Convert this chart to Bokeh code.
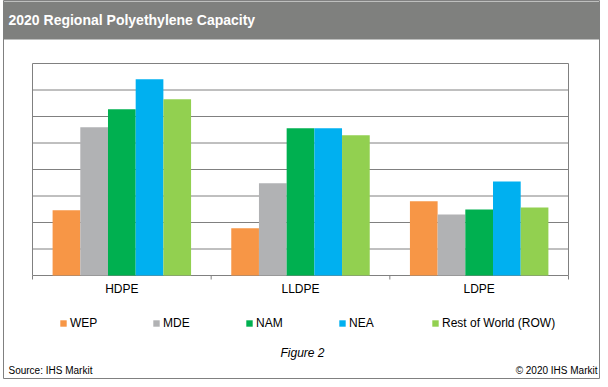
from bokeh.plotting import figure
from bokeh.models import (Range1d, Label, BoxAnnotation, Legend, LegendItem, ColumnDataSource)
from bokeh.transform import dodge
from bokeh.embed import file_html
from bokeh.resources import INLINE
from bokeh.core.properties import value

# ---- data (units = gridline steps, no axis labels shown) ----
categories = ["HDPE", "LLDPE", "LDPE"]
series_names = ["WEP", "MDE", "NAM", "NEA", "Rest of World (ROW)"]
wep = [2.46, 1.78, 2.80]
mde = [5.59, 3.48, 2.30]
nam = [6.27, 5.56, 2.49]
nea = [7.41, 5.56, 3.55]
row = [6.65, 5.29, 2.57]
y_ticks = [0, 1, 2, 3, 4, 5, 6, 7, 8]
title_text = "2020 Regional Polyethylene Capacity"
figure_text = "Figure 2"
source_text = "Source: IHS Markit"
copyright_text = "\u00a9 2020 IHS Markit"

colors = ["#F79646", "#B1B2B4", "#00B050", "#00B0F0", "#92D050"]
FONT = "Liberation Sans"
GRAY = "#808080"
HEADER = "#7F807E"

# ---- layout (canvas pixels) ----
W, H = 600, 379
FRAME_L, FRAME_R, FRAME_B = 3, 599, 378          # outer box = plot frame
PLOT_L, PLOT_R, PLOT_T, PLOT_B = 32, 568, 63, 275   # inner plotting area
n = len(categories)
y_max = y_ticks[-1]
ux = (PLOT_R - PLOT_L) / n
uy = (PLOT_B - PLOT_T) / y_max

def px_x(cx):
    return (cx - PLOT_L) / ux

def px_y(cy):
    return (PLOT_B - cy) / uy

centers = [i + 0.5 for i in range(n)]
bounds = [float(i) for i in range(n + 1)]

p = figure(width=W, height=H,
           x_range=Range1d(px_x(FRAME_L), px_x(FRAME_R)), y_range=Range1d(px_y(FRAME_B), px_y(0)),
           output_backend="svg", toolbar_location=None,
           x_axis_location=None, y_axis_location=None,
           min_border_left=FRAME_L, min_border_top=0,
           min_border_right=W - FRAME_R, min_border_bottom=H - FRAME_B)
p.xgrid.visible = False
p.ygrid.visible = False
p.outline_line_color = GRAY
p.outline_line_width = 1
p.background_fill_color = "white"
p.border_fill_color = "white"

# header bar
p.add_layout(BoxAnnotation(left=px_x(0), right=px_x(W), bottom=px_y(39), top=px_y(1),
                           fill_color=HEADER, fill_alpha=1, line_color=None))

# gridlines and plot-area box
p.segment(x0=0, x1=n, y0=y_ticks, y1=y_ticks, line_color=GRAY, line_width=1)
p.segment(x0=[0, n], x1=[0, n], y0=0, y1=y_max, line_color=GRAY, line_width=1)
# boundary tick marks below the category axis
p.segment(x0=bounds, x1=bounds, y0=0, y1=px_y(PLOT_B + 4), line_color=GRAY, line_width=1)
# category labels
p.text(x=centers, y=px_y(288), text=categories, text_align="center", text_baseline="middle",
       text_font=value(FONT), text_font_size="12px", text_color="#000000")

src = ColumnDataSource(dict(pos=centers, WEP=wep, MDE=mde, NAM=nam, NEA=nea, ROW=row))
keys = ["WEP", "MDE", "NAM", "NEA", "ROW"]
offsets = [-0.31, -0.155, 0.0, 0.155, 0.31]
renderers = []
for k, c, off in zip(keys, colors, offsets):
    r = p.vbar(x=dodge("pos", off), top=k, width=0.155, source=src,
               fill_color=c, line_color=None)
    renderers.append(r)

legend = Legend(items=[LegendItem(label=nm, renderers=[r]) for nm, r in zip(series_names, renderers)],
                orientation="horizontal", location=(59 - FRAME_L, FRAME_B - 333),
                glyph_width=8, glyph_height=8, label_standoff=3, label_width=72, spacing=10,
                label_height=20, padding=0, margin=0, border_line_color=None, background_fill_alpha=0,
                label_text_font=FONT, label_text_font_size="12px", label_text_color="#000000")
p.add_layout(legend, "center")

p.add_layout(Label(x=px_x(8), y=px_y(19), text=title_text,
                   text_font=FONT, text_font_size="14px", text_font_style="bold",
                   text_color="white", text_baseline="middle"))
p.add_layout(Label(x=px_x(302), y=px_y(352), text=figure_text,
                   text_font=FONT, text_font_size="12px", text_font_style="italic",
                   text_color="#000000", text_baseline="middle", text_align="center"))
p.add_layout(Label(x=px_x(8), y=px_y(370), text=source_text,
                   text_font=FONT, text_font_size="10px",
                   text_color="#000000", text_baseline="middle"))
p.add_layout(Label(x=px_x(597), y=px_y(370), text=copyright_text,
                   text_font=FONT, text_font_size="10px",
                   text_color="#000000", text_baseline="middle", text_align="right"))

open("out.html", "w").write(file_html(p, INLINE))
